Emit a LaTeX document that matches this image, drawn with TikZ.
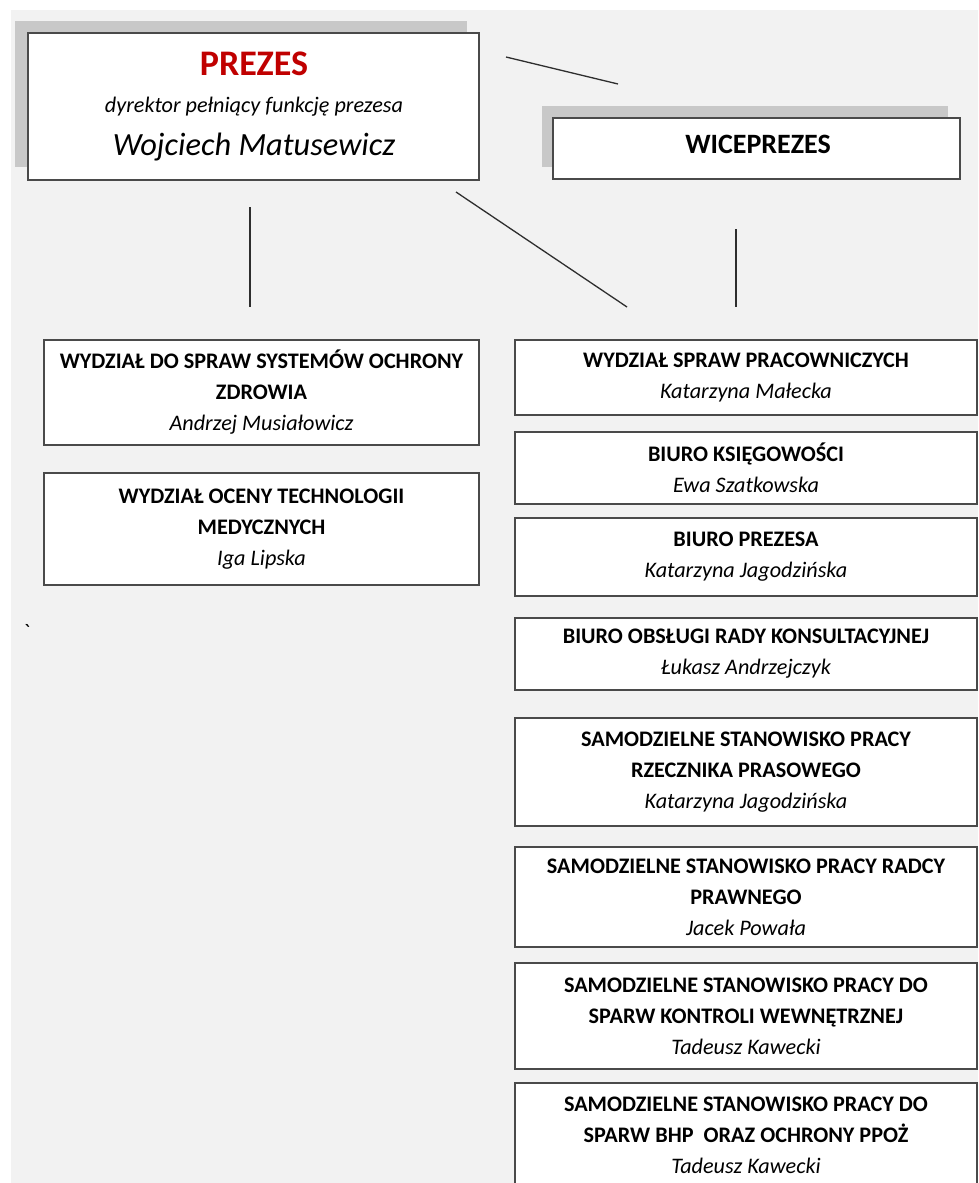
\documentclass[tikz,border=0pt]{standalone}
\usepackage{fontspec}
\setmainfont{Carlito}
\definecolor{bgc}{HTML}{F2F2F2}
\definecolor{shadc}{HTML}{C8C8C8}
\definecolor{bordc}{HTML}{4A4A4A}
\definecolor{linec}{HTML}{2E2E2E}
\definecolor{redc}{HTML}{C00000}
\begin{document}
\begin{tikzpicture}[x=1pt,y=-1pt,
  box/.style={draw=bordc,line width=1.6pt,fill=white,inner sep=0pt,align=center,
    font=\fontsize{22.2}{31}\selectfont},
  lbox/.style={box,minimum width=435pt},
  rbox/.style={box,minimum width=462pt},
  conn/.style={draw=linec,line width=1.3pt},
  shadow/.style={fill=shadc}]
\useasboundingbox (0,0) rectangle (978,1183);
\fill[bgc] (11,10) rectangle (978,1183);
% shadows
\fill[shadow] (15,21) rectangle (467,167);
\fill[shadow] (542,106) rectangle (948,167);
% top boxes
\node[box,minimum width=451pt,minimum height=147pt] (prezes) at (253.5,106.5) {};
\node[anchor=base,font=\fontsize{36}{40}\selectfont\bfseries,text=redc,inner sep=0pt] (ptitle) at (254,75) {PREZES};
\node[anchor=base,font=\fontsize{22.2}{25}\selectfont\itshape,inner sep=0pt] (pfun) at (254,112) {dyrektor pełniący funkcję prezesa};
\node[anchor=base,font=\fontsize{32.4}{36}\selectfont\itshape,inner sep=0pt] (pname) at (254,155) {Wojciech Matusewicz};
\node[box,minimum width=407pt,minimum height=61pt] (wice) at (756.5,148.5) {};
\node[font=\fontsize{28}{32}\selectfont\bfseries,inner sep=0pt] (wtxt) at (758,144) {WICEPREZES};
% left column
\node[lbox,minimum height=105pt] (l1) at (261.5,392.5) {\bfseries WYDZIAŁ DO SPRAW SYSTEMÓW OCHRONY\\\bfseries ZDROWIA\\\itshape Andrzej Musiałowicz};
\node[lbox,minimum height=112pt] (l2) at (261.5,529) {\bfseries WYDZIAŁ OCENY TECHNOLOGII\\\bfseries MEDYCZNYCH\\\itshape Iga Lipska};
% right column
\node[rbox,minimum height=75pt] (r1) at (746,377.5) {\bfseries WYDZIAŁ SPRAW PRACOWNICZYCH\\\itshape Katarzyna Małecka};
\node[rbox,minimum height=72pt] (r2) at (746,468) {\bfseries BIURO KSIĘGOWOŚCI\\\itshape Ewa Szatkowska};
\node[rbox,minimum height=78pt] (r3) at (746,557) {\bfseries BIURO PREZESA\\\itshape Katarzyna Jagodzińska};
\node[rbox,minimum height=72pt] (r4) at (746,654) {\bfseries BIURO OBSŁUGI RADY KONSULTACYJNEJ\\\itshape Łukasz Andrzejczyk};
\node[rbox,minimum height=108pt] (r5) at (746,772) {\bfseries SAMODZIELNE STANOWISKO PRACY\\\bfseries RZECZNIKA PRASOWEGO\\\itshape Katarzyna Jagodzińska};
\node[rbox,minimum height=100pt] (r6) at (746,897) {\bfseries SAMODZIELNE STANOWISKO PRACY RADCY\\\bfseries PRAWNEGO\\\itshape Jacek Powała};
\node[rbox,minimum height=106pt] (r7) at (746,1016) {\bfseries SAMODZIELNE STANOWISKO PRACY DO\\\bfseries SPARW KONTROLI WEWNĘTRZNEJ\\\itshape Tadeusz Kawecki};
\node[rbox,minimum height=105pt] (r8) at (746,1135.5) {\bfseries SAMODZIELNE STANOWISKO PRACY DO\\\bfseries SPARW BHP\ \ ORAZ OCHRONY PPOŻ\\\itshape Tadeusz Kawecki};
% stray mark
\node[font=\fontsize{22}{25}\selectfont,inner sep=0pt] (tick) at (27,632) {\textasciigrave};
% connector end points
\coordinate (a1) at (506,57);
\coordinate (a2) at (618,84);
\coordinate (b1) at (456,192);
\coordinate (b2) at (627,307);
\coordinate (c1) at (250,207);
\coordinate (c2) at (250,307);
\coordinate (d1) at (736,229);
\coordinate (d2) at (736,307);
\draw[conn] (a1) -- (a2);
\draw[conn] (b1) -- (b2);
\draw[conn] (c1) -- (c2);
\draw[conn] (d1) -- (d2);
\end{tikzpicture}
\end{document}
